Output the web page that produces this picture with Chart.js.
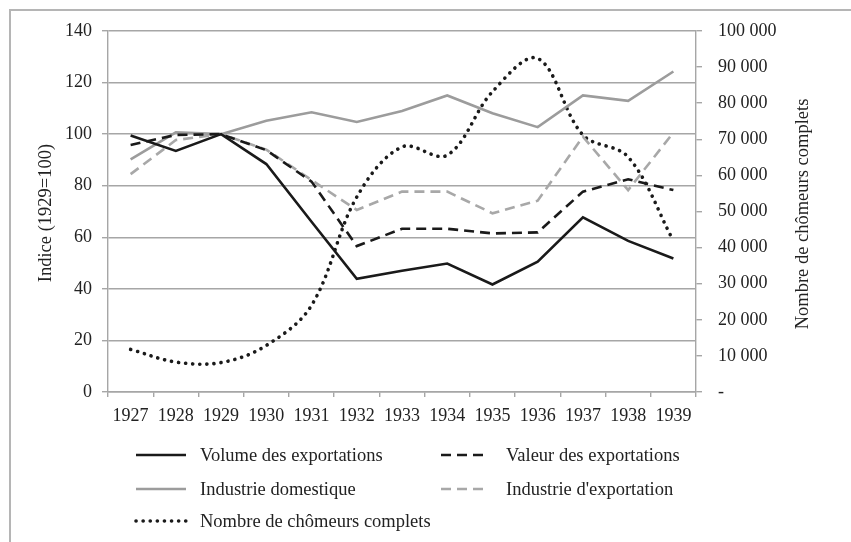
<!DOCTYPE html>
<html>
<head>
<meta charset="utf-8">
<script src="https://cdn.jsdelivr.net/npm/chart.js@4.4.0/dist/chart.umd.min.js"></script>
<style>
  html, body { margin: 0; padding: 0; background: #fff; overflow: hidden; }
  #wrap { position: relative; width: 851px; height: 542px; }
  #frame { position: absolute; left: 9px; top: 9px; width: 900px; height: 600px;
           border: 2px solid #b5b5b5; box-sizing: border-box; }
  #myChart { position: absolute; left: 0; top: 0; }
</style>
</head>
<body>
<div id="wrap">
  <div id="frame"></div>
  <canvas id="myChart" width="851" height="542"></canvas>
</div>
<script>
const years = ["1927", "1928", "1929", "1930", "1931", "1932", "1933", "1934", "1935", "1936", "1937", "1938", "1939"];

// indices (1929=100)
const volumeExportations = [99.5, 93.5, 100, 88.4, 66, 43.9, 47, 49.8, 41.7, 50.5, 67.7, 58.6, 51.8];
const valeurExportations = [95.8, 99.7, 100, 93.8, 81.6, 56.6, 63.3, 63.3, 61.5, 61.9, 77.7, 82.5, 78.3];
const industrieDomestique = [90.2, 100.7, 100, 105.2, 108.5, 104.7, 109, 115, 108.1, 102.7, 115, 112.9, 124.3];
const industrieExportation = [84.5, 97.7, 100, 94, 82.2, 70.6, 77.7, 77.7, 69.3, 74.2, 99, 78.3, 100.6];

// axe de droite
const chomeurs = [11800, 8300, 8150, 12900, 24000, 54000, 67900, 65600, 83200, 92400, 71200, 65100, 41900];

const serif = '"Liberation Serif", "DejaVu Serif", serif';
const txt = '#222';
const gridCol = '#a6a6a6';

const data = {
  labels: years,
  datasets: [
    { label: 'Volume des exportations', data: volumeExportations, yAxisID: 'y',
      borderColor: '#1a1a1a', borderWidth: 2.6 },
    { label: 'Valeur des exportations', data: valeurExportations, yAxisID: 'y',
      borderColor: '#1a1a1a', borderWidth: 2.6, borderDash: [10, 6] },
    { label: 'Industrie domestique', data: industrieDomestique, yAxisID: 'y',
      borderColor: '#9c9c9c', borderWidth: 2.6 },
    { label: "Industrie d'exportation", data: industrieExportation, yAxisID: 'y',
      borderColor: '#a8a8a8', borderWidth: 2.6, borderDash: [10, 6] },
    { label: 'Nombre de chômeurs complets', data: chomeurs, yAxisID: 'y1',
      borderColor: '#1a1a1a', borderWidth: 3.6, borderDash: [0.1, 7],
      borderCapStyle: 'round', tension: 0.35 }
  ]
};

// titres d'axes + légende en deux colonnes
const decor = {
  id: 'decor',
  afterDraw(chart) {
    const ctx = chart.ctx;
    ctx.save();
    ctx.fillStyle = txt;
    ctx.font = '18.5px ' + serif;
    ctx.textAlign = 'center';
    ctx.textBaseline = 'middle';

    ctx.save();
    ctx.translate(46, 213);
    ctx.rotate(-Math.PI / 2);
    ctx.fillText('Indice (1929=100)', 0, 0);
    ctx.restore();

    ctx.save();
    ctx.translate(803, 214);
    ctx.rotate(-Math.PI / 2);
    ctx.fillText('Nombre de chômeurs complets', 0, 0);
    ctx.restore();

    const spots = [[136, 455], [441, 455], [136, 489], [441, 489], [136, 521]];
    ctx.textAlign = 'left';
    chart.data.datasets.forEach((ds, i) => {
      const [x, y] = spots[i];
      ctx.save();
      ctx.strokeStyle = ds.borderColor;
      ctx.lineWidth = ds.borderWidth;
      ctx.lineCap = ds.borderCapStyle || 'butt';
      ctx.setLineDash(ds.borderDash || []);
      ctx.beginPath();
      ctx.moveTo(x, y);
      ctx.lineTo(x + (i % 2 ? 46 : 50), y);
      ctx.stroke();
      ctx.restore();
      ctx.fillText(ds.label, x + (i % 2 ? 65 : 64), y + 1);
    });
    ctx.restore();
  }
};

const config = {
  type: 'line',
  data: data,
  options: {
    responsive: false,
    animation: false,
    devicePixelRatio: 1,
    layout: { padding: { left: 0, right: 0, top: 31, bottom: 110 } },
    elements: { point: { radius: 0 }, line: { fill: false } },
    plugins: { legend: { display: false }, tooltip: { enabled: false } },
    scales: {
      x: {
        offset: true,
        grid: { offset: true, drawOnChartArea: false, drawTicks: true, tickLength: 5,
                color: gridCol, lineWidth: 1.4 },
        border: { color: gridCol, width: 1.4 },
        ticks: { font: { family: serif, size: 18 }, color: txt, padding: 8,
                 maxRotation: 0, autoSkip: false },
        afterFit: s => { s.height = 40; }
      },
      y: {
        position: 'left',
        min: 0, max: 140,
        grid: { color: gridCol, lineWidth: 1.4, tickLength: 6 },
        border: { color: gridCol, width: 1.4 },
        ticks: { stepSize: 20, font: { family: serif, size: 18 }, color: txt, padding: 10 },
        afterFit: s => { s.width = 108; }
      },
      y1: {
        position: 'right',
        min: 0, max: 100000,
        grid: { drawOnChartArea: false, color: gridCol, lineWidth: 1.4, tickLength: 6 },
        border: { color: gridCol, width: 1.4 },
        ticks: {
          stepSize: 10000, font: { family: serif, size: 18 }, color: txt, padding: 16,
          callback: v => v === 0 ? '-' : String(v).replace(/\B(?=(\d{3})+(?!\d))/g, ' ')
        },
        afterFit: s => { s.width = 155; }
      }
    }
  },
  plugins: [decor]
};

const myChart = new Chart(document.getElementById('myChart'), config);
</script>
</body>
</html>
